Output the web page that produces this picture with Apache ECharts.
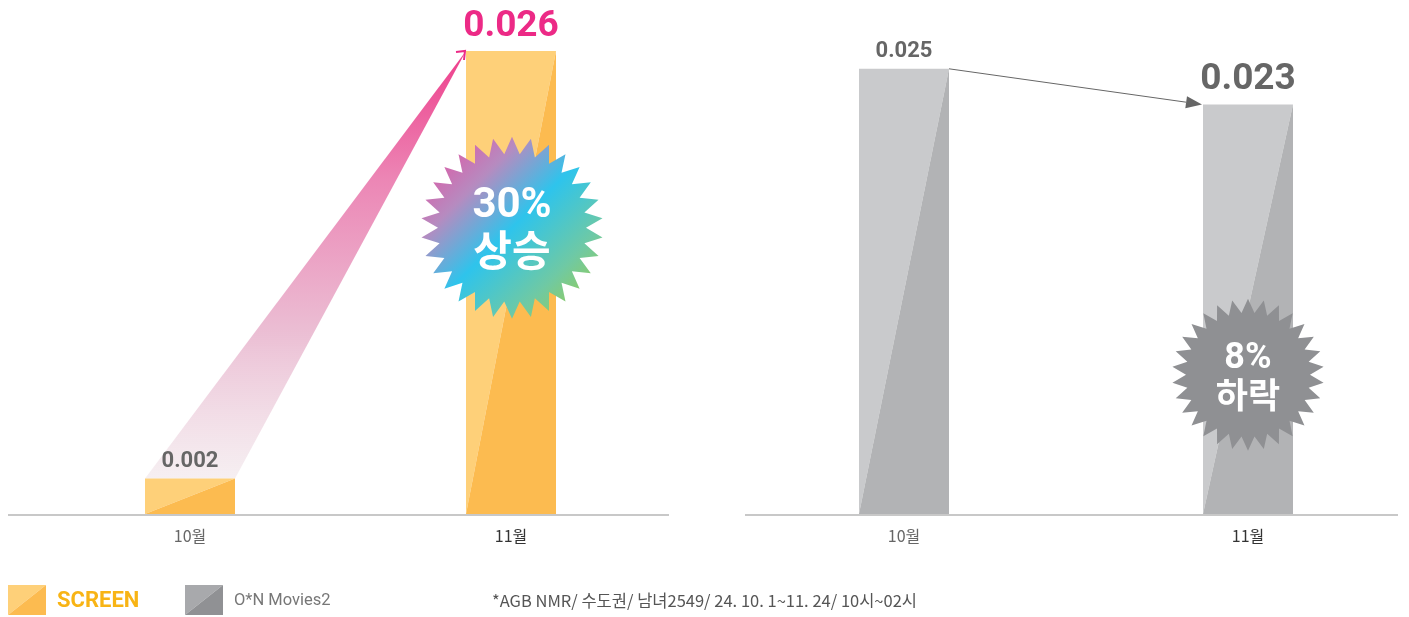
<!DOCTYPE html>
<html>
<head>
<meta charset="utf-8">
<script src="https://cdn.jsdelivr.net/npm/echarts@6/dist/echarts.min.js"></script>
<style>html,body{margin:0;padding:0;background:#fff;}#c{width:1409px;height:617px;}</style>
</head>
<body>
<div id="c"></div>
<script>
// ---- data ----
const categories = ['10월', '11월'];
const screenValues = [0.002, 0.026];
const onValues = [0.025, 0.023];
const seriesNames = ['SCREEN', 'O*N Movies2'];
const changeLabels = [['30%', '상승'], ['8%', '하락']];
const footnote = '*AGB NMR/ 수도권/ 남녀2549/ 24. 10. 1~11. 24/ 10시~02시';

const NUM_FONT = 'Roboto, "Noto Sans CJK KR", sans-serif';
const KR_FONT = '"Noto Sans CJK KR", Roboto, sans-serif';
const HALF = 45;

function makeBar(light, dark, lastColor) {
  return function (params, api) {
    const idx = params.dataIndex;
    const v = api.value(1);
    const top = api.coord([api.value(0), v]);
    const base = api.coord([api.value(0), 0]);
    const l = top[0] - HALF, r = top[0] + HALF, t = top[1], b = base[1];
    const isLast = idx === params.dataInsideLength - 1;
    const size = isLast ? 37 : 22;
    return {
      type: 'group',
      children: [
        { type: 'polygon', shape: { points: [[l, t], [r, t], [l, b]] }, style: { fill: light } },
        { type: 'polygon', shape: { points: [[r, t], [r, b], [l, b]] }, style: { fill: dark } },
        { type: 'text', x: top[0], y: t - (isLast ? 6 : 6),
          style: { text: v.toFixed(3), fill: isLast ? lastColor : '#666666',
                   font: 'bold ' + size + 'px ' + NUM_FONT, align: 'center', verticalAlign: 'bottom' } }
      ]
    };
  };
}

const axisLabelStyle = {
  fontFamily: KR_FONT, fontSize: 16, margin: 14,
  color: function (value, index) { return index === categories.length - 1 ? '#333' : '#666'; }
};

const chart = echarts.init(document.getElementById('c'));
chart.setOption({
  animation: false,
  grid: [
    { left: 190, top: 51, width: 321, height: 463 },
    { left: 904, top: 51, width: 344, height: 463 }
  ],
  xAxis: [
    { type: 'category', gridIndex: 0, data: categories, boundaryGap: false, axisLine: { show: false }, axisTick: { show: false }, axisLabel: axisLabelStyle },
    { type: 'category', gridIndex: 1, data: categories, boundaryGap: false, axisLine: { show: false }, axisTick: { show: false }, axisLabel: axisLabelStyle }
  ],
  yAxis: [
    { type: 'value', gridIndex: 0, min: 0, max: 0.026, show: false },
    { type: 'value', gridIndex: 1, min: 0, max: 0.026, show: false }
  ],
  series: [
    { type: 'custom', name: seriesNames[0], xAxisIndex: 0, yAxisIndex: 0, clip: false,
      data: screenValues.map((v, i) => [i, v]),
      renderItem: makeBar('#FED079', '#FCBB50', '#EC2A86') },
    { type: 'custom', name: seriesNames[1], xAxisIndex: 1, yAxisIndex: 1, clip: false,
      data: onValues.map((v, i) => [i, v]),
      renderItem: makeBar('#C9CACC', '#B2B3B5', '#666666') }
  ]
});

function starPoints(cx, cy, R, r, n) {
  const pts = [];
  for (let k = 0; k < n * 2; k++) {
    const a = -Math.PI / 2 + k * Math.PI / n;
    const rad = k % 2 === 0 ? R : r;
    pts.push([cx + rad * Math.cos(a), cy + rad * Math.sin(a)]);
  }
  return pts;
}

// annotation positions derived from the data coordinates
const p0 = chart.convertToPixel({ gridIndex: 0 }, [0, screenValues[0]]);
const p1 = chart.convertToPixel({ gridIndex: 0 }, [1, screenValues[1]]);
const z0 = chart.convertToPixel({ gridIndex: 0 }, [0, 0]);
const q0 = chart.convertToPixel({ gridIndex: 1 }, [0, onValues[0]]);
const q1 = chart.convertToPixel({ gridIndex: 1 }, [1, onValues[1]]);
const b1 = chart.convertToPixel({ gridIndex: 0 }, [1, screenValues[1] * 0.618]);
const b2 = chart.convertToPixel({ gridIndex: 1 }, [1, onValues[1] * 0.34]);
const baseY = z0[1];

// right arrow
const ax0 = q0[0] + HALF, ay0 = q0[1];
const ax1 = q1[0] - HALF - 1, ay1 = q1[1];
const ang = Math.atan2(ay1 - ay0, ax1 - ax0);
const hl = 16, hw = 6;
const hbx = ax1 - hl * Math.cos(ang), hby = ay1 - hl * Math.sin(ang);
const arrowHead = [[ax1, ay1],
  [hbx + hw * Math.sin(ang), hby - hw * Math.cos(ang)],
  [hbx - hw * Math.sin(ang), hby + hw * Math.cos(ang)]];

const tipX = p1[0] - HALF, tipY = p1[1];

const graphics = [
  // baselines
  { type: 'line', shape: { x1: 8, y1: baseY + 1, x2: 669, y2: baseY + 1 }, style: { stroke: '#C8C8C8', lineWidth: 2 }, z: 1 },
  { type: 'line', shape: { x1: 745, y1: baseY + 1, x2: 1398, y2: baseY + 1 }, style: { stroke: '#C8C8C8', lineWidth: 2 }, z: 1 },
  // pink wedge
  { type: 'polygon', z: 0,
    shape: { points: [[p0[0] - HALF, p0[1]], [p0[0] + HALF, p0[1]], [tipX, tipY]] },
    style: { fill: new echarts.graphic.LinearGradient(0, 0, 0, 1, [
      { offset: 0, color: '#EE3E8B' },
      { offset: 0.3, color: '#EC86B5' },
      { offset: 0.65, color: '#EBBDD3' },
      { offset: 1, color: 'rgba(242,232,236,0.7)' }
    ]) } },
  { type: 'polyline', z: 50,
    shape: { points: [[tipX - 10, tipY + 1], [tipX - 1, tipY], [tipX - 2, tipY + 9]] },
    style: { stroke: '#EC2A86', lineWidth: 2, fill: null } },
  // right arrow
  { type: 'line', z: 50, shape: { x1: ax0, y1: ay0, x2: hbx, y2: hby }, style: { stroke: '#666', lineWidth: 1 } },
  { type: 'polygon', z: 50, shape: { points: arrowHead }, style: { fill: '#666' } },
  // starbursts
  { type: 'polygon', z: 60, shape: { points: starPoints(b1[0] + 1, b1[1], 91, 74, 30) },
    style: { fill: new echarts.graphic.LinearGradient(0, 0, 1, 1, [
      { offset: 0, color: '#F0449A' },
      { offset: 0.28, color: '#B68BC0' },
      { offset: 0.5, color: '#2EC4EC' },
      { offset: 0.75, color: '#6FC9A4' },
      { offset: 1, color: '#AACF30' }
    ]) } },
  { type: 'text', z: 61, x: b1[0] + 1, y: b1[1] - 21,
    style: { text: changeLabels[0][0], fill: '#fff', font: 'bold 42px ' + NUM_FONT, align: 'center', verticalAlign: 'middle' } },
  { type: 'text', z: 61, x: b1[0] + 1, y: b1[1] + 22,
    style: { text: changeLabels[0][1], fill: '#fff', font: 'bold 42px ' + KR_FONT, align: 'center', verticalAlign: 'middle' } },
  { type: 'polygon', z: 60, shape: { points: starPoints(b2[0], b2[1], 76, 62, 30) }, style: { fill: '#8F9093' } },
  { type: 'text', z: 61, x: b2[0], y: b2[1] - 16,
    style: { text: changeLabels[1][0], fill: '#fff', font: 'bold 36px ' + NUM_FONT, align: 'center', verticalAlign: 'middle' } },
  { type: 'text', z: 61, x: b2[0], y: b2[1] + 20,
    style: { text: changeLabels[1][1], fill: '#fff', font: 'bold 35px ' + KR_FONT, align: 'center', verticalAlign: 'middle' } },
  // legend
  { type: 'polygon', shape: { points: [[8, 585], [46, 585], [8, 615]] }, style: { fill: '#FED079' } },
  { type: 'polygon', shape: { points: [[46, 585], [46, 615], [8, 615]] }, style: { fill: '#FCBB50' } },
  { type: 'text', x: 57, y: 601, style: { text: seriesNames[0], fill: '#F8B415', font: 'bold 22px ' + NUM_FONT, verticalAlign: 'middle' } },
  { type: 'polygon', shape: { points: [[185, 585], [223, 585], [185, 615]] }, style: { fill: '#A8A9AC' } },
  { type: 'polygon', shape: { points: [[223, 585], [223, 615], [185, 615]] }, style: { fill: '#909194' } },
  { type: 'text', x: 234, y: 601, style: { text: seriesNames[1], fill: '#777', font: '16.5px ' + NUM_FONT, verticalAlign: 'middle' } },
  { type: 'text', x: 492, y: 601, style: { text: footnote, fill: '#555', font: '16.5px ' + KR_FONT, verticalAlign: 'middle' } }
];
chart.setOption({ graphic: graphics });
</script>
</body>
</html>
